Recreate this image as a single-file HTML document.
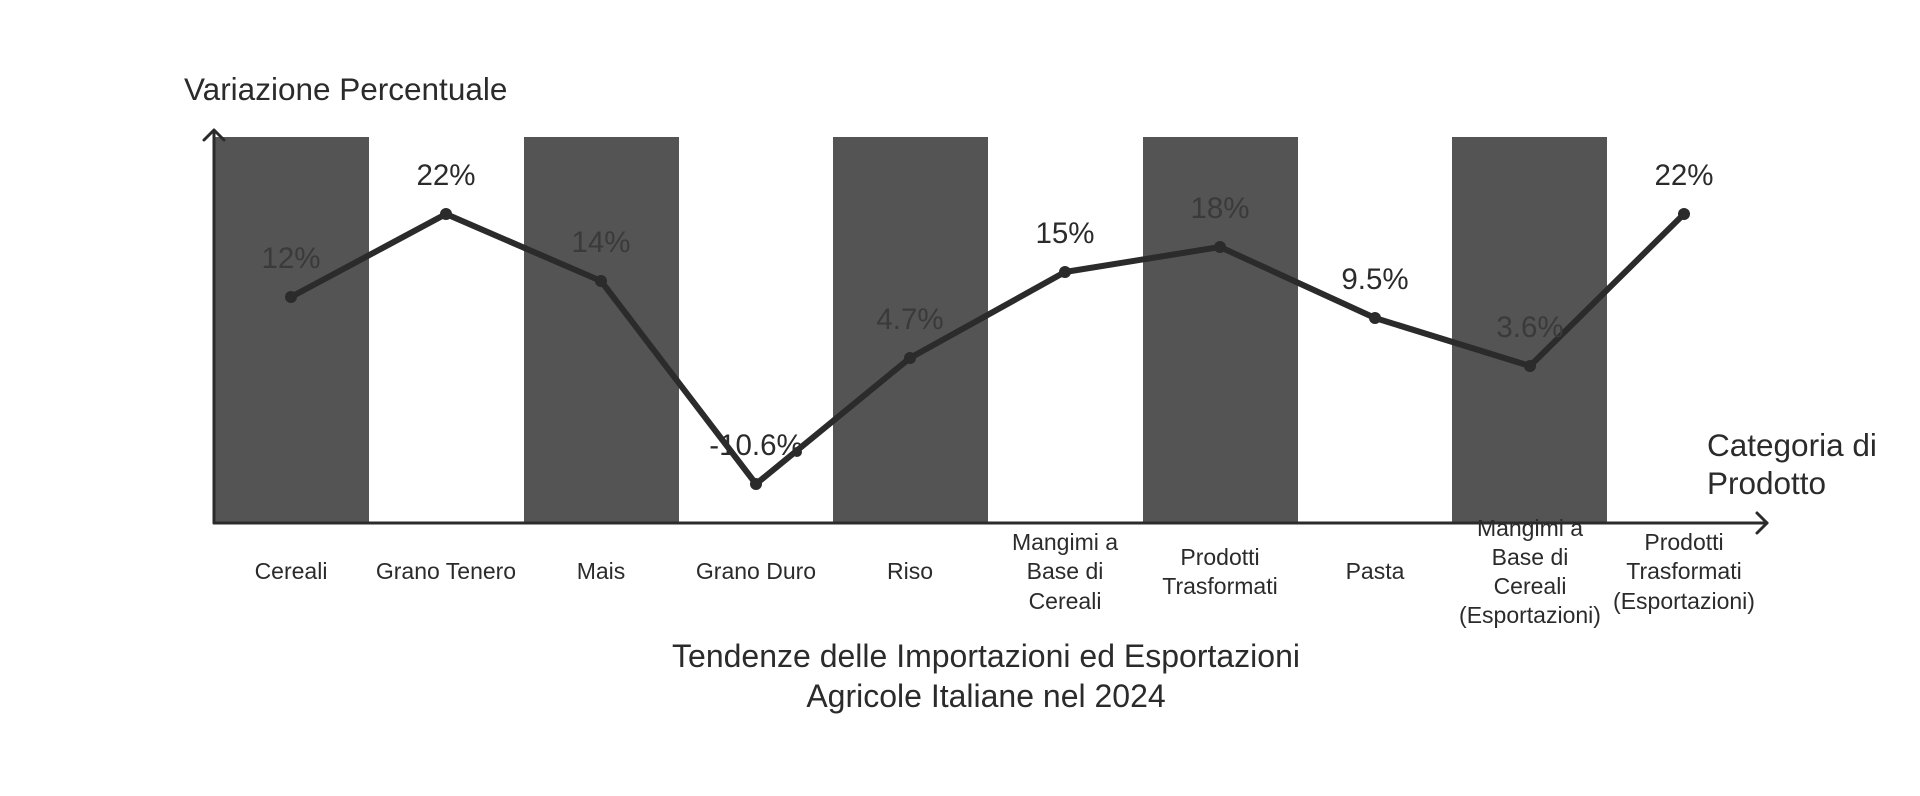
<!DOCTYPE html>
<html><head><meta charset="utf-8"><style>
html,body{margin:0;padding:0;background:#fff;}
svg{display:block;}
text{font-family:"Liberation Sans",sans-serif;fill:#2b2b2b;}
</style></head><body>
<svg width="1920" height="796" viewBox="0 0 1920 796" xmlns="http://www.w3.org/2000/svg">
<g fill="#545454">
<rect x="214" y="137" width="155" height="386"/>
<rect x="524" y="137" width="155" height="386"/>
<rect x="833" y="137" width="155" height="386"/>
<rect x="1143" y="137" width="155" height="386"/>
<rect x="1452" y="137" width="155" height="386"/>
</g>
<g stroke="#2b2b2b" stroke-width="3" fill="none" stroke-linecap="round" stroke-linejoin="round">
<path d="M214 523 V131"/><path d="M204 140 L214 130 L224 140"/>
<path d="M214 523 H1767"/><path d="M1757 513 L1767 523 L1757 533"/>
</g>
<polyline fill="none" stroke="#2b2b2b" stroke-width="6" stroke-linejoin="round" points="291,297 446,214 601,281 756,484 910,358 1065,272 1220,247 1375,318 1530,366 1684,214"/>
<g fill="#2b2b2b">
<circle cx="291" cy="297" r="6"/><circle cx="446" cy="214" r="6"/><circle cx="601" cy="281" r="6"/><circle cx="756" cy="484" r="6"/><circle cx="910" cy="358" r="6"/><circle cx="1065" cy="272" r="6"/><circle cx="1220" cy="247" r="6"/><circle cx="1375" cy="318" r="6"/><circle cx="1530" cy="366" r="6"/><circle cx="1684" cy="214" r="6"/><circle cx="797" cy="452" r="5"/>
</g>
<g font-size="29.5" text-anchor="middle">
<text x="291" y="268" style="fill:#3a3a3a">12%</text>
<text x="446" y="185">22%</text>
<text x="601" y="252" style="fill:#3a3a3a">14%</text>
<text x="756" y="455">-10.6%</text>
<text x="910" y="329" style="fill:#3a3a3a">4.7%</text>
<text x="1065" y="243">15%</text>
<text x="1220" y="218" style="fill:#3a3a3a">18%</text>
<text x="1375" y="289">9.5%</text>
<text x="1530" y="337" style="fill:#3a3a3a">3.6%</text>
<text x="1684" y="185">22%</text>
</g>
<text x="184" y="100" font-size="31.5">Variazione Percentuale</text>
<text x="1707" y="456" font-size="31.5">Categoria di</text>
<text x="1707" y="494" font-size="31.5">Prodotto</text>
<g font-size="23" text-anchor="middle">
<text x="291" y="579">Cereali</text>
<text x="446" y="579">Grano Tenero</text>
<text x="601" y="579">Mais</text>
<text x="756" y="579">Grano Duro</text>
<text x="910" y="579">Riso</text>
<text x="1065" y="550">Mangimi a</text><text x="1065" y="579">Base di</text><text x="1065" y="609">Cereali</text>
<text x="1220" y="565">Prodotti</text><text x="1220" y="594">Trasformati</text>
<text x="1375" y="579">Pasta</text>
<text x="1530" y="536">Mangimi a</text><text x="1530" y="565">Base di</text><text x="1530" y="594">Cereali</text><text x="1530" y="623">(Esportazioni)</text>
<text x="1684" y="550">Prodotti</text><text x="1684" y="579">Trasformati</text><text x="1684" y="609">(Esportazioni)</text>
</g>
<g font-size="32" text-anchor="middle">
<text x="986" y="667">Tendenze delle Importazioni ed Esportazioni</text>
<text x="986" y="707">Agricole Italiane nel 2024</text>
</g>
</svg>
</body></html>
